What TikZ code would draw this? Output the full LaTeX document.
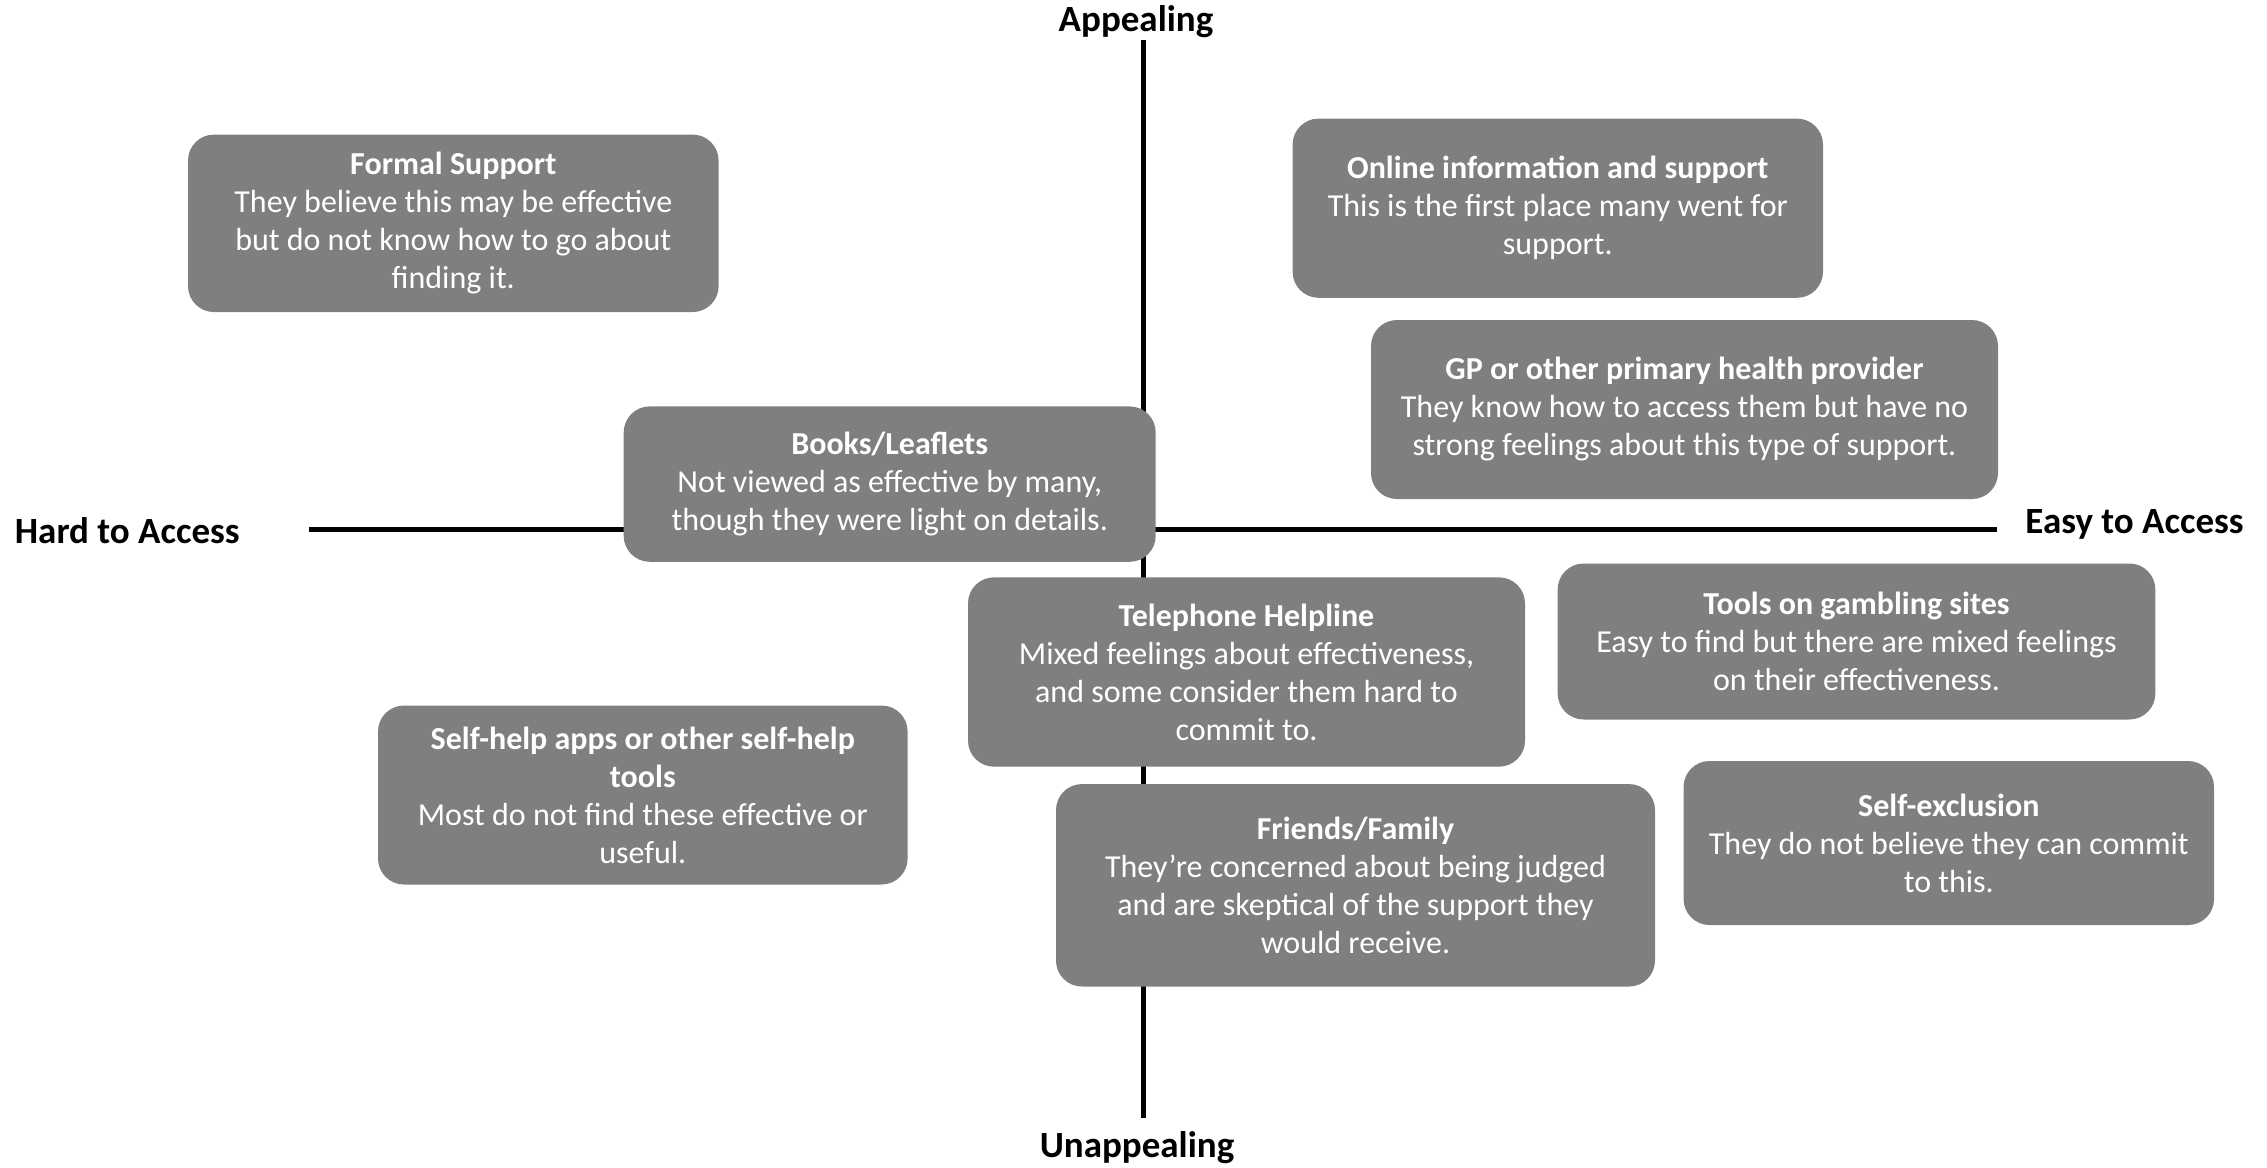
\documentclass[tikz,border=0pt]{standalone}
\usepackage{fontspec}
\setmainfont{Carlito}
\definecolor{boxgray}{RGB}{127,127,127}
\begin{document}
\begin{tikzpicture}[x=0.5pt,y=-0.5pt,
  qbox/.style={rectangle, rounded corners=13pt, fill=boxgray, text=white, inner sep=0pt, align=center, font=\fontsize{16}{19}\selectfont},
  axislabel/.style={font=\fontsize{18.5}{22}\selectfont\bfseries, text=black, inner sep=0pt},
  axisline/.style={draw=black, line width=2.25pt}]
\useasboundingbox (0,0) rectangle (2267,1168);
% axes
\coordinate (top) at (1143.6,40);
\coordinate (bot) at (1143.6,1118);
\coordinate (left) at (309,529.5);
\coordinate (right) at (1997,529.5);
\draw[axisline] (top) -- (bot);
\draw[axisline] (left) -- (right);
\node[axislabel] (lapp) at (1136,22) {Appealing};
\node[axislabel] (lunapp) at (1137,1148) {Unappealing};
\node[axislabel, anchor=west] (lhard) at (14.5,531) {Hard to Access};
\node[axislabel, anchor=east] (leasy) at (2244,524) {Easy to Access};
% boxes
\node[qbox, minimum width=265.3pt, minimum height=88.75pt] (formal) at (453.3,223.3)
  {\textbf{Formal Support}\\They believe this may be effective\\but do not know how to go about\\finding it.};
\node[qbox, minimum width=265.2pt, minimum height=89.6pt] (online) at (1557.8,208.2)
  {\textbf{Online information and support}\\This is the first place many went for\\support.};
\node[qbox, minimum width=313.5pt, minimum height=89.5pt] (gp) at (1684.5,409.5)
  {\textbf{GP or other primary health provider}\\They know how to access them but have no\\strong feelings about this type of support.};
\node[qbox, minimum width=266pt, minimum height=77.7pt] (books) at (889.7,484.1)
  {\textbf{Books/Leaflets}\\Not viewed as effective by many,\\though they were light on details.};
\node[qbox, minimum width=278.5pt, minimum height=94.65pt] (phone) at (1246.5,672)
  {\textbf{Telephone Helpline}\\Mixed feelings about effectiveness,\\and some consider them hard to\\commit to.};
\node[qbox, minimum width=298.85pt, minimum height=78pt] (tools) at (1856.5,641.5)
  {\textbf{Tools on gambling sites}\\Easy to find but there are mixed feelings\\on their effectiveness.};
\node[qbox, minimum width=264.8pt, minimum height=89.5pt] (selfhelp) at (642.8,795)
  {\textbf{Self-help apps or other self-help}\\\textbf{tools}\\Most do not find these effective or\\useful.};
\node[qbox, minimum width=299.5pt, minimum height=101.25pt] (friends) at (1355.5,885.3)
  {\textbf{Friends/Family}\\They’re concerned about being judged\\and are skeptical of the support they\\would receive.};
\node[qbox, minimum width=265.25pt, minimum height=82pt] (selfex) at (1948.8,843)
  {\textbf{Self-exclusion}\\They do not believe they can commit\\to this.};
\end{tikzpicture}
\end{document}
